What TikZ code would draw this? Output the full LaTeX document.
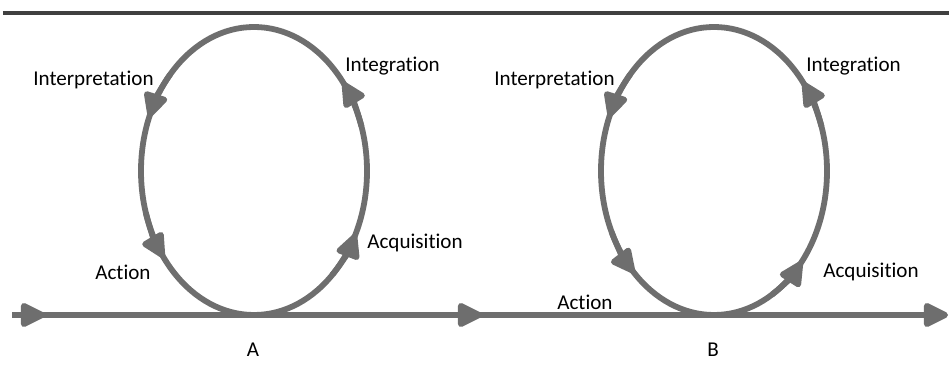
\documentclass[tikz,border=0pt]{standalone}
\usepackage{fontspec}
\setmainfont[Ligatures=NoCommon]{Carlito}
\usetikzlibrary{arrows.meta}
\definecolor{loopgray}{HTML}{6E6E6E}
\definecolor{rulegray}{HTML}{404040}
\begin{document}
\begin{tikzpicture}[
    loopline/.style={line width=3.3pt, loopgray},
    looptip/.style={loopline, -{Triangle[length=0.56cm,width=0.52cm,round]}},
    tag/.style={font=\fontsize{12}{14}\selectfont, inner sep=0pt, anchor=base west}
  ]
  \useasboundingbox (0,0) rectangle (18.98,7.48);
  \draw[line width=2.3pt, rulegray] (0.06,7.22) -- (18.98,7.22);
  % time line
  \coordinate (t0) at (0.24,1.18);
  \coordinate (t1) at (0.90,1.18);
  \coordinate (t2) at (9.64,1.18);
  \coordinate (t3) at (18.96,1.18);
  \draw[looptip] (t0) -- (t3);
  \draw[looptip] (t0) -- (t1);
  \draw[looptip] (t1) -- (t2);
  % loops
  \coordinate (cA) at (5.08,4.06);
  \coordinate (cB) at (14.28,4.06);
  \draw[loopline] (cA) ellipse[x radius=2.26, y radius=2.88];
  \draw[loopline] (cB) ellipse[x radius=2.26, y radius=2.88];
  \foreach \c/\a/\b in {cA/-46/-26, cA/18/38, cA/138/158, cA/197/217,
                        cB/-59/-39, cB/18/38, cB/138/158, cB/205/225}{
    \draw[looptip] ([shift={(\a:2.26 and 2.88)}]\c) arc[start angle=\a, end angle=\b, x radius=2.26, y radius=2.88];
  }
  % labels
  \node[tag] (intpA) at (0.66,5.76) {Interpretation};
  \node[tag] (integA) at (6.90,6.04) {Integration};
  \node[tag] (actA) at (1.90,1.88) {Action};
  \node[tag] (acqA) at (7.34,2.50) {Acquisition};
  \node[tag] (intpB) at (9.88,5.76) {Interpretation};
  \node[tag] (integB) at (16.12,6.04) {Integration};
  \node[tag] (actB) at (11.14,1.28) {Action};
  \node[tag] (acqB) at (16.46,1.92) {Acquisition};
  \node[font=\fontsize{12}{14}\selectfont] (nameA) at (5.06,0.48) {A};
  \node[font=\fontsize{12}{14}\selectfont] (nameB) at (14.26,0.48) {B};
\end{tikzpicture}
\end{document}
